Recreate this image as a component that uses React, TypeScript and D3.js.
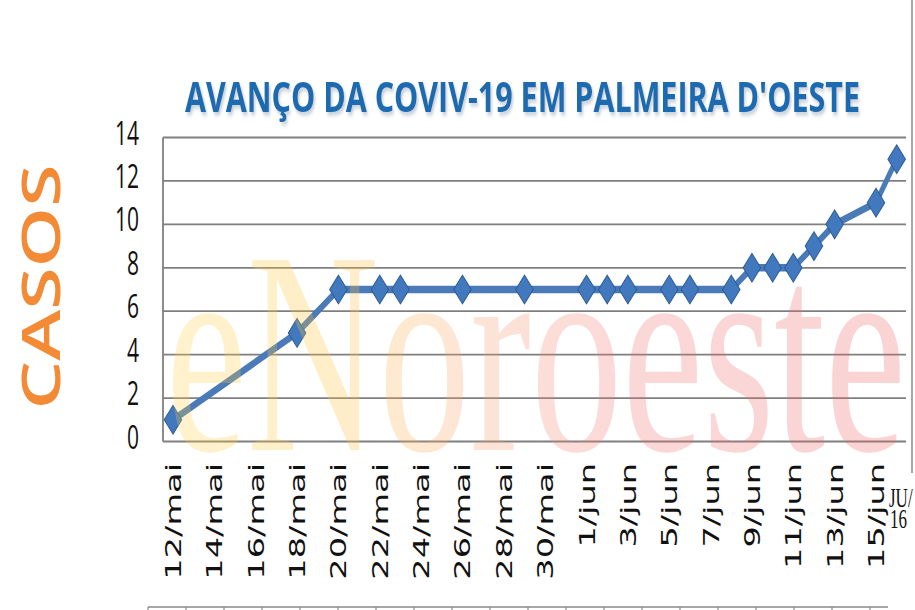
import React from "react";
import * as d3 from "d3";

const title = "AVANÇO DA COVIV-19 EM PALMEIRA D'OESTE";
const yAxisTitle = "CASOS";
const watermark = "eNoroeste";
const cutLabelTop = "JU/";
const cutLabelBottom = "16";

const dates = [
  "2020-05-12", "2020-05-18", "2020-05-20", "2020-05-22", "2020-05-23",
  "2020-05-26", "2020-05-29", "2020-06-01", "2020-06-02", "2020-06-03",
  "2020-06-05", "2020-06-06", "2020-06-08", "2020-06-09", "2020-06-10",
  "2020-06-11", "2020-06-12", "2020-06-13", "2020-06-15", "2020-06-16",
];
const cases = [1, 5, 7, 7, 7, 7, 7, 7, 7, 7, 7, 7, 7, 8, 8, 8, 9, 10, 11, 13];

const xTickLabels = [
  "12/mai", "14/mai", "16/mai", "18/mai", "20/mai", "22/mai", "24/mai", "26/mai", "28/mai", "30/mai",
  "1/jun", "3/jun", "5/jun", "7/jun", "9/jun", "11/jun", "13/jun", "15/jun",
];
const yTicks = [0, 2, 4, 6, 8, 10, 12, 14];
const monthNames = ["jan", "fev", "mar", "abr", "mai", "jun", "jul", "ago", "set", "out", "nov", "dez"];
const tableColumns = d3.range(20);

const W = 915;
const H = 610;
const S = 1.6; // vertical stretch of the original image

const parse = d3.utcParse("%Y-%m-%d");
const labelToDate = (l: string) => {
  const [d, m] = l.split("/");
  return new Date(Date.UTC(2020, monthNames.indexOf(m), +d));
};

export default function App() {
  const x = d3
    .scaleUtc()
    .domain([parse("2020-05-12")!, parse("2020-06-15")!])
    .range([173, 876]);
  const y = d3.scaleLinear().domain([0, 14]).range([441.5, 137.5]);
  const yS = d3.scaleLinear().domain([0, 14]).range([441.5 / S, 137.5 / S]);
  const pts = dates.map((d, i) => [x(parse(d)!), yS(cases[i])] as [number, number]);
  const line = d3.line()(pts) || "";
  const colX = d3.scaleLinear().domain([0, 19]).range([148, 870]);
  const diamond = (cx: number, cy: number) =>
    `M${cx},${cy - 9}L${cx + 8.8},${cy}L${cx},${cy + 9}L${cx - 8.8},${cy}Z`;

  return (
    <svg
      width={W}
      height={H}
      style={{ position: "absolute", left: 0, top: 0, background: "#fff" }}
    >
      <defs>
        <linearGradient id="wm" gradientUnits="userSpaceOnUse" x1={165} y1={0} x2={905} y2={0}>
          <stop offset="0" stopColor="#FFD24A" />
          <stop offset="0.22" stopColor="#FFC23A" />
          <stop offset="0.42" stopColor="#F7A070" />
          <stop offset="0.62" stopColor="#F07272" />
          <stop offset="1" stopColor="#EE6262" />
        </linearGradient>
        <filter id="shadow" x="-5%" y="-20%" width="110%" height="160%">
          <feDropShadow dx="1.5" dy="2" stdDeviation="1.2" floodColor="#7a8da0" floodOpacity="0.45" />
        </filter>
      </defs>
      <rect x={0} y={0} width={W} height={H} fill="#fff" />

      {/* title */}
      <text
        transform={`translate(185,112) scale(1,${S})`}
        fontFamily="'Open Sans', sans-serif"
        fontWeight={700}
        fontSize={26}
        fill="#1F6BB0"
        textLength={675}
        lengthAdjust="spacingAndGlyphs"
        filter="url(#shadow)"
      >
        {title}
      </text>

      {/* y axis title */}
      <text
        transform="translate(60,287) rotate(-90)"
        x={-122.5}
        fontFamily="'Open Sans', sans-serif"
        fontWeight={600}
        fontSize={53}
        fill="#F28A36"
        textLength={245}
        lengthAdjust="spacingAndGlyphs"
      >
        {yAxisTitle}
      </text>

      {/* grid */}
      {yTicks.map((t) => (
        <line key={t} x1={163} x2={906} y1={y(t)} y2={y(t)} stroke="#7f7f7f" strokeWidth={1.8} />
      ))}
      <line x1={163} x2={163} y1={y(14)} y2={y(0)} stroke="#7f7f7f" strokeWidth={1.8} />
      <line x1={912} x2={912} y1={0} y2={473} stroke="#8a8a8a" strokeWidth={1.5} />

      {/* y tick labels */}
      {yTicks.map((t) => (
        <text
          key={t}
          transform={`translate(139,${y(t) + 7}) scale(1,${S})`}
          textAnchor="end"
          fontFamily="'Open Sans', sans-serif"
          fontSize={21}
          fill="#111"
        >
          {t}
        </text>
      ))}

      {/* x tick labels */}
      {xTickLabels.map((l) => (
        <text
          key={l}
          transform={`translate(${x(labelToDate(l)) + 8},463) rotate(-90) scale(${S},1)`}
          textAnchor="end"
          fontFamily="'DejaVu Sans', Verdana, sans-serif"
          fontSize={21}
          fill="#111"
        >
          {l}
        </text>
      ))}
      <text transform={`translate(889,507) scale(1,${S})`} fontFamily="'Liberation Serif', serif" fontSize={17} fill="#111">
        {cutLabelTop}
      </text>
      <text transform={`translate(890,528) scale(1,${S})`} fontFamily="'Liberation Serif', serif" fontSize={17} fill="#111">
        {cutLabelBottom}
      </text>

      {/* series */}
      <g transform={`scale(1,${S})`}>
        <path d={line} fill="none" stroke="#4A7AB8" strokeWidth={4.6} strokeLinejoin="round" />
        {pts.map(([px, py], i) => (
          <path key={i} d={diamond(px, py)} fill="#4178BE" stroke="#2E5C92" strokeWidth={0.8} />
        ))}
      </g>

      {/* watermark */}
      <text
        x={166}
        y={450}
        fontFamily="'Liberation Serif', 'Times New Roman', serif"
        fontSize={290}
        fill="url(#wm)"
        fillOpacity={0.28}
        textLength={740}
        lengthAdjust="spacingAndGlyphs"
      >
        {watermark}
      </text>

      {/* cut-off data table at bottom */}
      <line x1={148} x2={888} y1={607} y2={607} stroke="#8a8a8a" strokeWidth={1.5} />
      {tableColumns.map((c) => (
        <line key={c} x1={colX(c)} x2={colX(c)} y1={607} y2={610} stroke="#8a8a8a" strokeWidth={1.2} />
      ))}
    </svg>
  );
}
